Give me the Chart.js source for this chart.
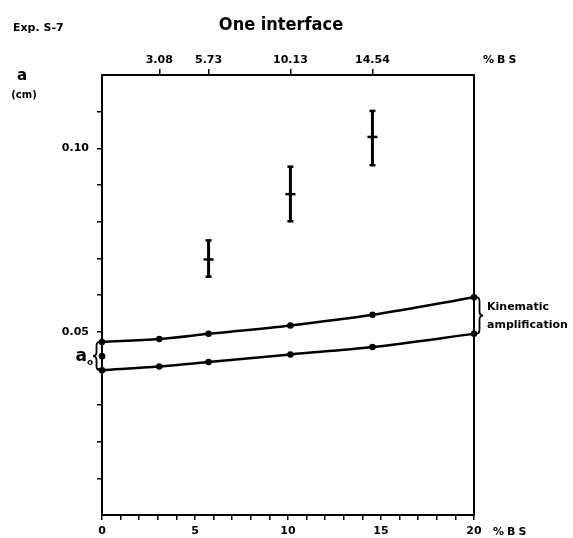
<!DOCTYPE html>
<html>
<head>
<meta charset="utf-8">
<script src="https://cdn.jsdelivr.net/npm/chart.js@4.4.0/dist/chart.umd.min.js"></script>
<style>
  html, body { margin: 0; padding: 0; background: #fff; }
  #wrap { width: 573px; height: 538px; }
</style>
</head>
<body>
<div id="wrap"><canvas id="c" width="573" height="538"></canvas></div>
<script>
// ---- data ----
const bsPct      = [0, 3.08, 5.73, 10.13, 14.54, 20];           // % BS (x)
const upperLine  = [0.0472, 0.0480, 0.0494, 0.0517, 0.0546, 0.0594];
const lowerLine  = [0.0395, 0.0405, 0.0417, 0.0438, 0.0458, 0.0494];
const a0Value    = 0.0433;
const errX       = [5.73, 10.13, 14.54];
const errMean    = [0.0697, 0.0875, 0.1031];
const errLow     = [0.0650, 0.0801, 0.0954];
const errHigh    = [0.0749, 0.0950, 0.1102];
const topTicks   = [3.08, 5.73, 10.13, 14.54];
const yLabelled  = [0.05, 0.10];

const BLACK = '#000';
const tickFont = { family: 'DejaVu Sans', weight: 'bold', size: 11 };

const datasets = [
  {
    data: bsPct.map((x, i) => ({ x, y: upperLine[i] })),
    showLine: true, borderColor: BLACK, backgroundColor: BLACK, clip: false,
    borderWidth: 2.5, pointRadius: 2, cubicInterpolationMode: 'monotone'
  },
  {
    data: bsPct.map((x, i) => ({ x, y: lowerLine[i] })),
    showLine: true, borderColor: BLACK, backgroundColor: BLACK, clip: false,
    borderWidth: 2.5, pointRadius: 2, cubicInterpolationMode: 'monotone'
  },
  {
    data: [{ x: 0, y: a0Value }],
    borderColor: BLACK, backgroundColor: BLACK, pointRadius: 3, clip: false
  }
];
errX.forEach((x, i) => {
  datasets.push({
    data: [{ x, y: errLow[i] }, { x, y: errHigh[i] }],
    showLine: true, borderColor: BLACK, backgroundColor: BLACK,
    borderWidth: 3, pointStyle: 'line', pointRadius: 3, pointBorderWidth: 2.5
  });
});
datasets.push({
  data: errX.map((x, i) => ({ x, y: errMean[i] })),
  borderColor: BLACK, backgroundColor: BLACK,
  pointStyle: 'line', pointRadius: 5, pointBorderWidth: 2.5
});

function brace(ctx, x, y1, y2, w, dir) {
  // dir = -1 : opening "{" (tip pointing left); +1 : closing "}" (tip pointing right)
  const ym = (y1 + y2) / 2;
  const tip = x + dir * w;
  const mid = x + dir * w * 0.5;
  ctx.beginPath();
  ctx.moveTo(x, y1);
  ctx.quadraticCurveTo(mid, y1, mid, y1 + 4);
  ctx.lineTo(mid, ym - 4);
  ctx.quadraticCurveTo(mid, ym, tip, ym);
  ctx.quadraticCurveTo(mid, ym, mid, ym + 4);
  ctx.lineTo(mid, y2 - 4);
  ctx.quadraticCurveTo(mid, y2, x, y2);
  ctx.stroke();
}

const annot = {
  id: 'annot',
  afterDraw(chart) {
    const ctx = chart.ctx;
    const xs = chart.scales.x, ys = chart.scales.y;
    const ca = chart.chartArea;
    ctx.save();
    ctx.fillStyle = BLACK;
    ctx.strokeStyle = BLACK;
    ctx.textBaseline = 'middle';

    ctx.font = 'bold 11px "DejaVu Sans"';
    ctx.textAlign = 'left';
    ctx.fillText('Exp. S-7', 13, 28);

    ctx.font = 'bold 18px "DejaVu Sans Condensed", "DejaVu Sans"';
    ctx.textAlign = 'center';
    ctx.fillText('One interface', 281, 25);

    // axis unit labels
    ctx.font = 'bold 11px "DejaVu Sans"';
    ctx.textAlign = 'left';
    ctx.letterSpacing = '3px';
    ctx.fillText('%BS', ca.right + 9, 60);
    ctx.fillText('%BS', ca.right + 19, 532);
    ctx.letterSpacing = '0px';

    ctx.font = 'bold 15px "DejaVu Sans"';
    ctx.textAlign = 'center';
    ctx.fillText('a', 22, 76);
    ctx.font = 'bold 10px "DejaVu Sans"';
    ctx.fillText('(cm)', 24, 95);

    // a0 label with brace
    const x0 = xs.getPixelForValue(0);
    const yu0 = ys.getPixelForValue(upperLine[0]);
    const yl0 = ys.getPixelForValue(lowerLine[0]);
    ctx.lineWidth = 1.8;
    brace(ctx, x0 - 2, yu0, yl0, 7, -1);
    ctx.font = 'bold 17px "DejaVu Sans"';
    ctx.textAlign = 'right';
    const ya0 = (yu0 + yl0) / 2;
    ctx.fillText('a', x0 - 15, ya0 + 1);
    ctx.font = 'bold 9px "DejaVu Sans"';
    ctx.textAlign = 'left';
    ctx.fillText('o', x0 - 15, ya0 + 7);

    // kinematic amplification brace
    const xe = xs.getPixelForValue(20);
    const yu = ys.getPixelForValue(upperLine[upperLine.length - 1]);
    const yl = ys.getPixelForValue(lowerLine[lowerLine.length - 1]);
    brace(ctx, xe + 2, yu, yl, 7, 1);
    ctx.font = 'bold 11px "DejaVu Sans"';
    ctx.textAlign = 'left';
    ctx.fillText('Kinematic', xe + 13, yu + 10);
    ctx.fillText('amplification', xe + 13, yu + 28);
    ctx.restore();
  }
};

new Chart(document.getElementById('c'), {
  type: 'scatter',
  data: { datasets },
  plugins: [annot],
  options: {
    responsive: false,
    animation: false,
    layout: { padding: 0 },
    plugins: { legend: { display: false }, tooltip: { enabled: false } },
    scales: {
      x: {
        type: 'linear', position: 'bottom', min: 0, max: 20,
        afterFit(s) { s.height = 23; },
        ticks: {
          stepSize: 1, autoSkip: false, maxRotation: 0, padding: 5,
          color: BLACK, font: tickFont,
          callback: v => (v % 5 === 0 ? String(v) : '')
        },
        grid: { drawOnChartArea: false, tickLength: 5, tickColor: BLACK, lineWidth: 1.5 },
        border: { color: BLACK, width: 2 }
      },
      x2: {
        type: 'linear', position: 'top', min: 0, max: 20,
        afterFit(s) { s.height = 75; },
        afterBuildTicks(s) { s.ticks = topTicks.map(v => ({ value: v })); },
        ticks: {
          autoSkip: false, maxRotation: 0, padding: 2,
          color: BLACK, font: tickFont,
          callback: v => Number(v).toFixed(2)
        },
        grid: { drawOnChartArea: false, tickLength: 6, tickColor: BLACK, lineWidth: 1.5 },
        border: { color: BLACK, width: 2 }
      },
      y: {
        type: 'linear', position: 'left', min: 0, max: 0.12,
        afterFit(s) { s.width = 102; },
        afterBuildTicks(s) { s.ticks = s.ticks.filter(t => t.value > 1e-9 && t.value < 0.12 - 1e-9); },
        ticks: {
          stepSize: 0.01, autoSkip: false, padding: 8,
          color: BLACK, font: tickFont,
          callback: v => (yLabelled.some(t => Math.abs(t - v) < 1e-9) ? v.toFixed(2) : '')
        },
        grid: { drawOnChartArea: false, tickLength: 5, tickColor: BLACK, lineWidth: 1.5 },
        border: { color: BLACK, width: 2 }
      },
      y2: {
        type: 'linear', position: 'right', min: 0, max: 0.12,
        afterFit(s) { s.width = 99; },
        ticks: { display: false },
        grid: { drawOnChartArea: false, drawTicks: false, tickLength: 0 },
        border: { color: BLACK, width: 2 }
      }
    }
  }
});
</script>
</body>
</html>
